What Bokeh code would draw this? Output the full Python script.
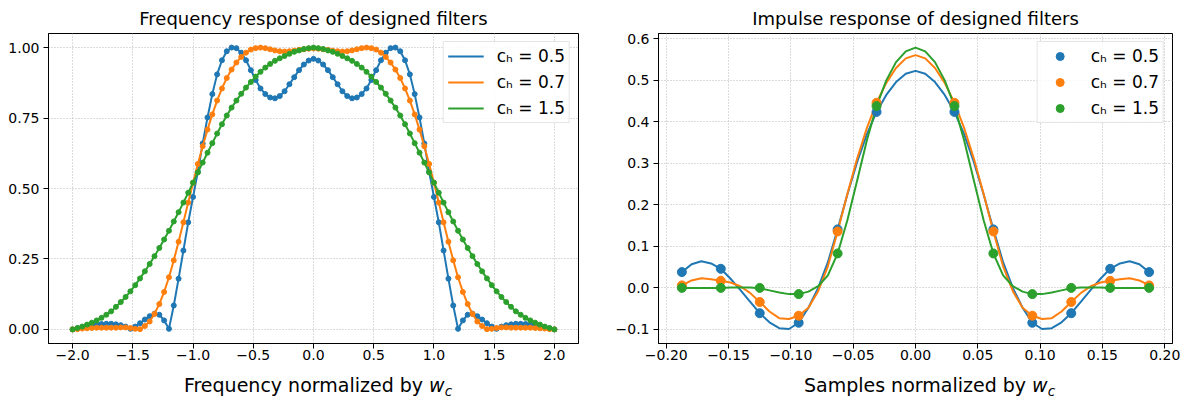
import numpy as np
from bokeh.plotting import figure
from bokeh.layouts import row, column
from bokeh.models import (FixedTicker, CustomJSTickFormatter, Legend, LegendItem, Range1d, Div)
from bokeh.embed import file_html
from bokeh.resources import INLINE

# ---------------- data ----------------
LEGEND_LABELS = ["c\u2095 = 0.5", "c\u2095 = 0.7", "c\u2095 = 1.5"]
COLORS = ["#1f77b4", "#ff7f0e", "#2ca02c"]
TITLE_LEFT = "Frequency response of designed filters"
TITLE_RIGHT = "Impulse response of designed filters"
XLABEL_LEFT = "Frequency normalized by"
XLABEL_RIGHT = "Samples normalized by"

# frequency response (sampled every 0.04 from -2 to 2)
freq = np.round(np.linspace(-2.0, 2.0, 101), 2)
H_05 = [0.000, 0.004, 0.008, 0.011, 0.015, 0.017, 0.019, 0.020, 0.020, 0.018,
        0.015, 0.010, 0.002, 0.010, 0.022, 0.035, 0.047, 0.056, 0.052, 0.032,
        0.002, 0.085, 0.180, 0.280, 0.380, 0.470, 0.560, 0.660, 0.752, 0.835,
        0.905, 0.955, 0.987, 1.000, 0.998, 0.982, 0.955, 0.920, 0.885, 0.855,
        0.835, 0.823, 0.820, 0.828, 0.845, 0.870, 0.895, 0.920, 0.940, 0.954,
        0.960,
        0.954, 0.940, 0.920, 0.895, 0.870, 0.845, 0.828, 0.820, 0.823, 0.835,
        0.855, 0.885, 0.920, 0.955, 0.982, 0.998, 1.000, 0.987, 0.955, 0.905,
        0.835, 0.752, 0.660, 0.560, 0.470, 0.380, 0.280, 0.180, 0.085, 0.002,
        0.032, 0.052, 0.056, 0.047, 0.035, 0.022, 0.010, 0.002, 0.010, 0.015,
        0.018, 0.020, 0.020, 0.019, 0.017, 0.015, 0.011, 0.008, 0.004, 0.000]
H_07 = [0.000, 0.001, 0.003, 0.004, 0.005, 0.006, 0.006, 0.006, 0.006, 0.006,
        0.007, 0.007, 0.005, 0.002, 0.001, 0.012, 0.028, 0.055, 0.090, 0.133,
        0.185, 0.245, 0.311, 0.380, 0.450, 0.520, 0.587, 0.650, 0.709, 0.763,
        0.812, 0.855, 0.892, 0.922, 0.947, 0.967, 0.982, 0.993, 0.998, 1.000,
        0.998, 0.994, 0.990, 0.987, 0.986, 0.987, 0.989, 0.992, 0.994, 0.996,
        0.997,
        0.996, 0.994, 0.992, 0.989, 0.987, 0.986, 0.987, 0.990, 0.994, 0.998,
        1.000, 0.998, 0.993, 0.982, 0.967, 0.947, 0.922, 0.892, 0.855, 0.812,
        0.763, 0.709, 0.650, 0.587, 0.520, 0.450, 0.380, 0.311, 0.245, 0.185,
        0.133, 0.090, 0.055, 0.028, 0.012, 0.001, 0.002, 0.005, 0.007, 0.007,
        0.006, 0.006, 0.006, 0.006, 0.006, 0.005, 0.004, 0.003, 0.001, 0.000]
H_15 = [0.000, 0.005, 0.010, 0.017, 0.024, 0.032, 0.041, 0.052, 0.064, 0.080,
        0.097, 0.115, 0.135, 0.157, 0.181, 0.206, 0.232, 0.260, 0.289, 0.319,
        0.350, 0.383, 0.416, 0.450, 0.485, 0.521, 0.557, 0.592, 0.627, 0.661,
        0.695, 0.728, 0.759, 0.787, 0.812, 0.836, 0.858, 0.878, 0.897, 0.914,
        0.929, 0.942, 0.953, 0.962, 0.970, 0.978, 0.985, 0.990, 0.995, 0.998,
        1.000,
        0.998, 0.995, 0.990, 0.985, 0.978, 0.970, 0.962, 0.953, 0.942, 0.929,
        0.914, 0.897, 0.878, 0.858, 0.836, 0.812, 0.787, 0.759, 0.728, 0.695,
        0.661, 0.627, 0.592, 0.557, 0.521, 0.485, 0.450, 0.416, 0.383, 0.350,
        0.319, 0.289, 0.260, 0.232, 0.206, 0.181, 0.157, 0.135, 0.115, 0.097,
        0.080, 0.064, 0.052, 0.041, 0.032, 0.024, 0.017, 0.010, 0.005, 0.000]

# impulse response: smooth curves (every 1/128) and filter taps
t_fine = np.arange(-24, 25) / 128.0
h_05 = [0.038, 0.057, 0.064, 0.059, 0.046, 0.022, -0.005, -0.033, -0.061, -0.083,
        -0.097, -0.099, -0.084, -0.048, 0.000, 0.062, 0.141, 0.225, 0.303, 0.370,
        0.424, 0.465, 0.496, 0.516, 0.523, 0.516, 0.496, 0.465, 0.424, 0.370,
        0.303, 0.225, 0.141, 0.062, 0.000, -0.048, -0.084, -0.099, -0.097, -0.083,
        -0.061, -0.033, -0.005, 0.022, 0.046, 0.059, 0.064, 0.057, 0.038]
h_07 = [0.006, 0.018, 0.023, 0.021, 0.017, 0.013, 0.004, -0.012, -0.034, -0.057,
        -0.073, -0.075, -0.067, -0.048, -0.008, 0.052, 0.136, 0.226, 0.311, 0.385,
        0.446, 0.494, 0.530, 0.553, 0.561, 0.553, 0.530, 0.494, 0.446, 0.385,
        0.311, 0.226, 0.136, 0.052, -0.008, -0.048, -0.067, -0.075, -0.073, -0.057,
        -0.034, -0.012, 0.004, 0.013, 0.017, 0.021, 0.023, 0.018, 0.006]
h_15 = [0.000, 0.000, 0.000, 0.000, 0.000, 0.001, 0.001, 0.001, -0.001, -0.006,
        -0.011, -0.015, -0.015, -0.009, 0.004, 0.030, 0.083, 0.163, 0.258, 0.355,
        0.438, 0.500, 0.544, 0.570, 0.579, 0.570, 0.544, 0.500, 0.438, 0.355,
        0.258, 0.163, 0.083, 0.030, 0.004, -0.009, -0.015, -0.015, -0.011, -0.006,
        -0.001, 0.001, 0.001, 0.001, 0.000, 0.000, 0.000, 0.000, 0.000]

taps_t = [-0.1875, -0.15625, -0.125, -0.09375, -0.0625, -0.03125,
          0.03125, 0.0625, 0.09375, 0.125, 0.15625, 0.1875]
taps_05 = [0.038, 0.046, -0.061, -0.084, 0.141, 0.424, 0.424, 0.141, -0.084, -0.061, 0.046, 0.038]
taps_07 = [0.006, 0.017, -0.034, -0.067, 0.136, 0.446, 0.446, 0.136, -0.067, -0.034, 0.017, 0.006]
taps_15 = [0.000, 0.000, 0.000, -0.015, 0.083, 0.438, 0.438, 0.083, -0.015, 0.000, 0.000, 0.000]

FREQ_TICKS = [-2.0, -1.5, -1.0, -0.5, 0.0, 0.5, 1.0, 1.5, 2.0]
MAG_TICKS = [0.0, 0.25, 0.5, 0.75, 1.0]
TIME_TICKS = [-0.20, -0.15, -0.10, -0.05, 0.0, 0.05, 0.10, 0.15, 0.20]
AMP_TICKS = [-0.1, 0.0, 0.1, 0.2, 0.3, 0.4, 0.5, 0.6]

FONT = "DejaVu Sans"


def fmt(nd):
    return CustomJSTickFormatter(
        code="var s = tick.toFixed(%d); if (Math.abs(tick) < 1e-9) { s = (0).toFixed(%d); } return s.replace('-', '\\u2212');" % (nd, nd))


def style(p, xt, yt, xnd, ynd):
    p.title.align = "center"
    p.title.text_font = FONT
    p.title.text_font_size = "18px"
    p.title.text_font_style = "normal"
    p.title.text_color = "#000000"
    p.title.standoff = 10
    p.outline_line_color = "#000000"
    p.outline_line_alpha = 1.0
    p.outline_line_width = 1
    for ax, ticks, nd in ((p.xaxis[0], xt, xnd), (p.yaxis[0], yt, ynd)):
        ax.ticker = FixedTicker(ticks=ticks)
        ax.formatter = fmt(nd)
        ax.major_label_text_font = FONT
        ax.major_label_text_font_size = "14px"
        ax.major_label_text_color = "#000000"
        ax.axis_line_color = "#000000"
        ax.major_tick_line_color = "#000000"
        ax.major_tick_out = 5
        ax.major_tick_in = 0
        ax.minor_tick_line_color = None
    p.xaxis[0].major_label_standoff = 1
    p.yaxis[0].major_label_standoff = 4
    p.xgrid.ticker = FixedTicker(ticks=xt)
    p.ygrid.ticker = FixedTicker(ticks=yt)
    for g in (p.xgrid[0], p.ygrid[0]):
        g.grid_line_color = "#b8b8b8"
        g.grid_line_dash = "1 2"
        g.grid_line_width = 1


def legend(items):
    lg = Legend(items=items, location="top_right")
    lg.label_text_font = FONT
    lg.label_text_font_size = "17px"
    lg.label_text_color = "#000000"
    lg.glyph_width = 36
    lg.glyph_height = 20
    lg.label_height = 20
    lg.label_standoff = 13
    lg.spacing = 6
    lg.padding = 4
    lg.margin = 8
    lg.border_line_color = "#cccccc"
    lg.border_line_width = 1
    lg.background_fill_alpha = 0.85
    return lg


def label_div(width, text, shift):
    """x-axis label under a chart: plain text followed by an italic w with subscript c."""
    html = (
        '<div style="position:relative;width:%dpx;height:14px;overflow:visible;">'
        '<div style="position:absolute;left:%.1fpx;top:-16px;width:%dpx;text-align:center;'
        'white-space:nowrap;font-family:\'DejaVu Sans\';font-size:19px;line-height:20px;color:#000;">'
        '%s <i>w</i><span style="font-size:13.5px;font-style:italic;position:relative;top:3.5px;">c</span>'
        '</div></div>' % (width, shift, width, text))
    return Div(text=html, width=width, height=14)


# ---------------- left: frequency response ----------------
p1 = figure(width=612, height=386, x_range=Range1d(-2.2, 2.2), y_range=Range1d(-0.05, 1.05),
            output_backend="svg", toolbar_location=None, title=TITLE_LEFT,
            min_border_left=48, min_border_right=34, min_border_top=30, min_border_bottom=38)
style(p1, FREQ_TICKS, MAG_TICKS, 1, 2)
items1 = []
for lab, col, ys in zip(LEGEND_LABELS, COLORS, (H_05, H_07, H_15)):
    r = p1.line(freq, ys, line_color=col, line_width=2)
    p1.scatter(freq, ys, size=5, fill_color=col, line_color=col)
    items1.append(LegendItem(label=lab, renderers=[r]))
p1.add_layout(legend(items1))

# ---------------- right: impulse response ----------------
p2 = figure(width=578, height=386, x_range=Range1d(-0.20625, 0.20625), y_range=Range1d(-0.134, 0.613),
            output_backend="svg", toolbar_location=None, title=TITLE_RIGHT,
            min_border_left=45, min_border_right=18, min_border_top=30, min_border_bottom=43)
style(p2, TIME_TICKS, AMP_TICKS, 2, 1)
for col, ys in zip(COLORS, (h_05, h_07, h_15)):
    p2.line(t_fine, ys, line_color=col, line_width=2)
items2 = []
for lab, col, ys in zip(LEGEND_LABELS, COLORS, (taps_05, taps_07, taps_15)):
    s = p2.scatter(taps_t, ys, size=9, fill_color=col, line_color=col)
    items2.append(LegendItem(label=lab, renderers=[s]))
p2.add_layout(legend(items2))

d1 = label_div(612, XLABEL_LEFT, 7)
d2 = label_div(578, XLABEL_RIGHT, 13.5)

layout = column(row(p1, p2), row(d1, d2))
open("out.html", "w").write(file_html(layout, INLINE))
